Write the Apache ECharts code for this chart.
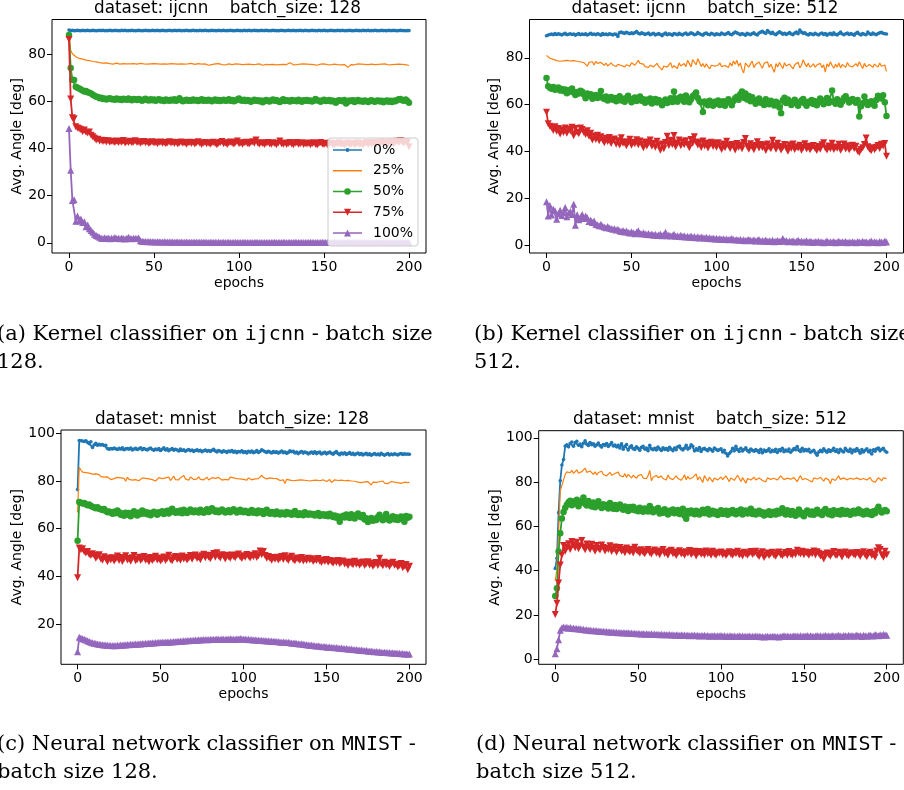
<!DOCTYPE html>
<html><head><meta charset="utf-8">
<script src="https://cdn.jsdelivr.net/npm/echarts@6/dist/echarts.min.js"></script>
<style>html,body{margin:0;padding:0;background:#fff}#c{width:904px;height:790px}</style>
</head><body><div id="c"></div>
<script>
// ---------- labels ----------
const seriesNames = ['0%', '25%', '50%', '75%', '100%'];
const panelTitles = ['dataset: ijcnn    batch_size: 128', 'dataset: ijcnn    batch_size: 512',
                     'dataset: mnist    batch_size: 128', 'dataset: mnist    batch_size: 512'];
const xLabel = 'epochs';
const yLabel = 'Avg. Angle [deg]';
const xTicks = [0, 50, 100, 150, 200];
const yTicksA = [0, 20, 40, 60, 80];
const yTicksB = [0, 20, 40, 60, 80];
const yTicksC = [20, 40, 60, 80, 100];
const yTicksD = [0, 20, 40, 60, 80, 100];
const captionA = ['{r|(a) Kernel classifier on }{m|ijcnn}{r| - batch size}', '{r|128.}'];
const captionB = ['{r|(b) Kernel classifier on }{m|ijcnn}{r| - batch size}', '{r|512.}'];
const captionC = ['{r|(c) Neural network classifier on }{m|MNIST}{r| -}', '{r|batch size 128.}'];
const captionD = ['{r|(d) Neural network classifier on }{m|MNIST}{r| -}', '{r|batch size 512.}'];

// ---------- data: one value per epoch 0..200 ----------
const ijcnn128_0 = [
90.2,90.0,90.1,89.9,90.0,90.1,90.0,89.9,90.1,90.0,90.0,90.1,89.9,90.0,90.1,90.0,89.9,90.0,90.1,90.0,
90.1,89.9,90.0,90.0,90.1,90.0,89.9,90.1,90.0,90.0,89.9,90.1,90.0,90.1,89.9,90.0,90.0,90.1,90.0,89.9,
90.0,90.1,90.0,89.9,90.0,90.1,90.0,90.0,89.9,90.1,90.0,90.0,90.1,89.9,90.0,90.1,90.0,89.9,90.0,90.1,
90.0,89.9,90.1,90.0,90.0,90.1,89.9,90.0,90.0,90.1,90.0,89.9,90.0,90.1,90.0,90.0,89.9,90.1,90.0,90.0,
90.1,90.0,89.9,90.0,90.1,90.0,90.0,89.9,90.1,90.0,90.0,90.1,89.9,90.0,90.0,90.1,90.0,89.9,90.0,90.1,
90.0,90.0,89.9,90.1,90.0,90.0,90.1,89.9,90.0,90.1,90.0,90.0,89.9,90.1,90.0,90.0,90.1,90.0,89.9,90.0,
90.1,90.0,90.0,89.9,90.0,90.1,90.0,89.9,90.0,90.1,90.0,90.0,90.1,89.9,90.0,90.0,90.1,90.0,89.9,90.1,
90.0,89.9,90.0,90.1,90.0,90.0,89.9,90.1,90.0,90.0,90.1,90.0,89.9,90.0,90.1,90.0,90.0,89.9,90.1,90.0,
90.0,90.1,89.9,90.0,90.0,90.1,90.0,89.9,90.0,90.1,90.0,90.0,89.9,90.1,90.0,90.0,90.1,89.9,90.0,90.0,
90.1,90.0,89.9,90.0,90.1,90.0,90.0,89.9,90.1,90.0,90.0,90.1,90.0,89.9,90.0,90.1,90.0,90.0,89.9,90.0,90.0];
const ijcnn128_25 = [
88.5,81.5,80.2,79.4,78.9,78.6,78.2,78.0,77.9,77.6,77.5,77.4,77.3,77.0,76.9,76.8,76.7,76.5,76.4,76.3,
76.2,76.1,76.3,75.9,76.0,76.1,75.8,76.0,76.2,75.9,75.8,76.1,76.0,75.7,75.9,76.2,75.9,75.8,76.0,76.1,
75.8,75.9,76.1,75.7,75.9,76.0,75.8,76.3,75.9,75.7,76.0,75.8,75.9,76.1,75.8,75.6,75.9,76.0,75.8,75.9,
76.0,75.7,75.9,76.1,75.8,76.6,75.9,75.7,75.8,76.0,75.9,75.8,76.1,75.9,75.7,75.8,76.0,75.9,75.8,75.6,
75.9,75.7,75.3,75.1,75.6,75.8,75.9,75.7,76.0,75.8,75.6,75.9,75.4,75.8,75.9,75.2,75.6,75.8,75.9,75.7,
75.8,75.9,75.6,75.8,75.7,75.5,75.8,75.9,75.6,75.4,75.7,75.8,75.9,75.6,75.3,75.8,75.7,75.9,75.6,75.8,
75.7,75.9,75.5,75.8,75.6,75.9,75.7,75.8,75.6,75.9,76.4,75.7,75.5,75.8,75.6,75.4,75.8,75.7,75.9,75.6,
75.8,75.5,75.7,75.9,75.6,75.8,75.3,75.6,75.8,75.5,75.9,75.7,75.6,75.8,75.5,75.7,75.8,75.9,75.6,75.7,
75.5,75.3,75.6,74.9,74.4,75.0,75.6,75.8,75.5,75.7,75.9,75.6,75.8,75.5,75.7,75.9,75.6,75.4,75.8,75.7,
75.6,75.9,75.7,75.5,75.8,75.6,75.9,75.7,75.4,75.8,75.6,75.9,75.7,75.5,75.8,76.1,75.7,75.5,75.6,75.8,75.2];
const ijcnn128_50 = [
88.1,74.1,69.2,69.0,66.2,65.8,65.4,65.0,64.6,64.2,64.4,63.9,63.6,63.3,62.8,62.4,62.0,61.8,61.3,61.5,
61.0,61.2,60.8,61.1,61.3,60.9,61.0,60.7,61.2,60.8,61.0,60.6,61.1,60.9,60.7,61.2,60.8,60.5,61.0,60.9,
60.6,61.0,60.7,60.3,60.8,61.1,60.6,60.4,60.9,60.5,60.8,60.2,60.7,60.9,60.4,60.6,60.1,60.8,60.5,60.3,
60.7,60.4,60.9,60.2,60.6,61.3,60.5,60.0,60.4,60.7,60.3,60.5,60.2,60.8,60.4,60.6,60.1,60.5,60.9,60.3,
60.6,60.2,60.7,60.4,60.0,60.5,60.8,60.3,60.6,60.1,60.5,60.7,60.2,60.4,60.9,60.3,60.6,60.0,60.4,60.8,
61.2,60.5,60.3,60.7,60.1,60.6,60.4,59.8,60.3,60.7,60.2,60.5,60.0,60.4,59.6,60.3,60.6,60.1,59.9,60.5,
60.8,60.2,60.6,60.0,59.7,60.4,60.9,60.1,60.5,60.3,59.9,60.6,60.2,60.4,60.0,60.7,60.3,59.8,60.5,60.2,
60.6,60.1,60.4,59.9,60.3,61.0,60.5,60.2,59.8,60.4,60.7,60.1,60.3,60.6,60.0,60.4,59.9,59.4,60.2,60.5,
60.3,60.0,60.6,59.1,59.8,60.4,60.1,60.5,59.7,60.2,60.6,60.0,60.3,59.8,60.4,60.1,59.7,60.3,60.5,60.0,
59.8,60.2,60.4,59.9,60.3,59.6,60.1,60.4,59.8,60.2,59.7,60.3,60.0,60.6,60.9,61.0,60.5,60.2,60.8,60.1,59.4];
const ijcnn128_75 = [
86.2,61.0,53.0,52.6,49.2,48.7,48.4,48.0,47.1,47.8,46.9,46.6,47.0,45.6,45.0,44.3,43.6,43.9,43.2,43.5,
43.0,43.4,42.8,43.3,42.7,43.1,42.9,42.5,43.2,42.6,43.0,42.7,43.4,42.3,42.9,42.6,43.1,42.4,42.8,43.3,
42.5,42.9,42.2,42.7,43.0,42.4,42.8,42.1,42.6,42.9,42.3,42.7,42.0,42.5,42.8,42.2,42.6,42.0,42.4,42.9,
42.3,42.7,42.1,42.5,41.9,42.4,42.8,42.2,42.6,41.8,42.3,42.7,42.1,42.5,41.9,42.4,42.9,42.2,41.7,42.3,
42.6,42.0,42.4,41.8,42.3,42.7,42.1,41.6,42.2,42.6,43.0,42.0,42.4,41.7,42.3,42.8,42.2,41.9,42.5,43.2,
42.0,42.4,41.8,42.3,42.7,42.1,41.9,42.5,42.9,42.2,43.6,42.3,41.8,42.4,42.1,41.7,42.3,42.6,42.0,41.8,
42.4,42.1,41.6,42.2,43.2,42.0,41.8,42.3,41.7,42.1,42.5,41.9,41.6,42.2,42.6,41.8,42.0,42.4,41.7,42.1,
41.9,42.3,41.6,42.0,42.4,41.8,41.5,42.1,42.5,41.9,41.7,42.2,41.6,42.0,42.3,41.8,41.5,42.1,41.9,42.4,
41.7,42.0,41.4,41.9,42.3,41.6,41.8,42.2,41.5,41.9,42.4,41.7,42.0,41.6,42.1,42.5,41.8,42.2,41.9,42.6,
42.2,41.8,42.5,42.1,42.8,42.3,41.9,42.6,42.2,42.9,42.4,42.0,42.7,43.1,42.5,43.4,42.8,42.3,43.0,42.6,40.8];
const ijcnn128_100 = [
48.5,30.8,18.0,18.3,9.2,11.4,9.3,10.1,8.6,9.0,6.8,7.6,6.0,5.2,4.5,3.6,3.1,2.8,2.4,2.0,
1.9,2.2,1.8,2.1,1.7,2.0,1.9,2.3,1.8,2.0,1.7,2.1,1.9,1.6,2.0,2.4,1.8,1.7,2.0,1.9,
1.8,2.1,0.9,0.7,0.6,0.6,0.5,0.6,0.5,0.5,0.5,0.4,0.5,0.5,0.4,0.4,0.5,0.4,0.4,0.4,
0.4,0.4,0.3,0.4,0.4,0.3,0.4,0.3,0.3,0.4,0.3,0.3,0.3,0.3,0.3,0.3,0.3,0.3,0.3,0.3,
0.3,0.3,0.2,0.3,0.3,0.2,0.3,0.2,0.3,0.2,0.2,0.3,0.2,0.2,0.3,0.2,0.2,0.2,0.3,0.2,
0.2,0.2,0.2,0.3,0.2,0.2,0.2,0.2,0.2,0.2,0.3,0.2,0.2,0.2,0.2,0.2,0.2,0.2,0.2,0.2,
0.2,0.3,0.2,0.2,0.2,0.2,0.3,0.2,0.2,0.2,0.2,0.2,0.2,0.3,0.2,0.2,0.2,0.2,0.2,0.2,
0.2,0.2,0.3,0.2,0.2,0.2,0.2,0.2,0.2,0.3,0.2,0.2,0.2,0.2,0.2,0.2,0.3,0.2,0.2,0.2,
0.2,0.2,0.2,0.2,0.3,0.2,0.2,0.2,0.2,0.2,0.2,0.2,0.3,0.2,0.2,0.2,0.2,0.2,0.2,0.2,
0.2,0.3,0.2,0.2,0.2,0.2,0.2,0.2,0.3,0.2,0.2,0.2,0.2,0.2,0.2,0.3,0.2,0.2,0.2,0.2,0.2];

const ijcnn512_0 = [
89.4,89.7,89.9,90.1,89.8,90.3,89.9,90.2,90.0,89.7,90.1,90.4,89.8,90.0,90.2,89.9,90.1,89.6,90.0,90.3,
89.8,90.1,89.9,90.2,89.7,90.0,90.4,89.9,90.1,89.8,90.2,90.0,89.6,90.3,89.9,90.1,89.8,90.2,90.0,89.7,
90.1,90.0,89.1,90.7,90.9,90.6,90.4,90.8,90.5,90.2,90.6,90.3,90.7,91.2,90.4,90.1,90.6,90.3,89.9,90.2,
90.5,89.8,90.1,90.4,89.7,90.0,90.3,89.9,89.4,90.1,90.5,89.8,90.2,90.0,89.6,90.3,90.1,89.8,90.4,90.0,
89.7,90.2,90.5,89.9,90.1,90.6,90.3,89.8,90.0,90.7,90.2,89.9,89.6,90.3,90.5,90.0,89.8,90.4,90.1,89.7,
90.2,90.0,89.8,90.5,90.1,89.9,90.3,90.7,90.0,89.8,90.4,91.0,90.6,90.2,89.8,90.3,90.0,89.6,90.4,90.1,
89.8,90.3,90.6,90.0,89.7,90.5,90.9,91.3,90.7,90.4,91.6,90.9,90.3,90.8,90.1,89.8,90.5,91.1,90.6,90.0,
90.4,89.9,90.3,90.7,90.1,89.8,90.5,91.0,90.2,91.8,90.9,90.4,90.6,90.0,89.7,90.3,90.1,89.8,90.4,90.0,
89.7,90.2,90.5,89.9,90.3,89.6,90.1,90.4,89.8,90.6,90.0,89.7,90.3,90.9,90.1,89.8,90.2,90.5,89.9,90.3,
90.0,89.6,90.4,90.8,90.1,89.7,90.3,90.0,89.8,91.0,90.2,89.9,90.5,90.1,89.8,90.3,90.6,90.8,90.4,90.2,90.1];
const ijcnn512_25 = [
81.0,80.3,79.8,80.0,79.3,79.6,78.8,79.2,78.5,79.0,78.7,78.2,78.9,78.4,78.6,78.1,78.8,78.3,78.5,78.9,
78.2,78.6,77.9,78.4,76.4,78.0,77.7,78.3,76.9,78.5,77.6,77.1,78.0,77.4,76.8,77.7,76.5,77.3,77.8,76.9,
77.5,76.3,77.2,77.8,76.7,77.4,76.1,77.0,77.6,76.4,77.9,77.2,76.8,77.5,78.9,77.6,76.9,77.3,76.2,76.7,
75.9,76.8,77.4,76.1,76.9,77.6,76.3,77.1,74.8,76.5,77.2,76.0,76.8,77.9,75.7,76.6,77.3,75.4,77.8,76.5,
76.9,77.5,76.2,78.9,77.6,76.1,79.2,78.4,77.0,79.6,78.1,76.3,77.5,75.9,77.4,76.2,75.3,76.8,77.6,76.4,
75.6,76.9,77.8,76.2,75.4,76.7,77.3,75.8,77.9,76.5,78.6,77.2,78.9,76.4,77.8,75.1,73.5,77.7,78.5,76.0,
77.4,78.6,75.8,77.1,76.3,78.2,76.8,75.5,77.6,76.9,78.3,75.9,77.2,76.4,73.8,77.5,76.1,78.0,76.7,75.4,
77.9,76.5,75.8,77.3,76.6,75.2,77.0,76.4,78.1,75.7,76.8,79.2,77.4,76.2,77.7,75.9,76.6,77.4,76.0,76.9,
76.3,77.6,75.8,77.0,73.9,77.4,76.2,78.3,76.7,75.5,77.2,76.0,77.8,75.6,77.1,76.4,75.9,78.0,76.6,77.3,
76.1,75.7,77.5,76.3,78.3,76.8,75.4,77.6,76.2,75.8,77.1,76.5,75.9,77.3,76.7,76.0,77.8,76.4,75.6,76.9,74.2];
const ijcnn512_50 = [
71.4,67.9,67.2,66.8,67.5,66.4,66.9,67.3,66.0,66.7,65.8,66.5,64.9,66.2,65.6,66.9,65.2,64.1,65.4,64.8,
65.9,65.5,64.3,62.7,64.8,63.9,64.5,62.5,63.4,64.1,62.9,63.6,65.8,63.0,62.4,63.5,61.8,62.7,63.3,62.1,
62.8,61.5,62.9,63.6,61.8,62.5,61.2,62.9,63.8,62.2,61.0,62.4,63.1,61.6,62.8,63.5,61.7,62.3,60.8,62.1,
61.4,62.6,60.5,61.8,62.4,60.9,62.0,61.3,59.8,61.5,62.2,60.7,61.9,62.7,61.1,65.6,62.5,61.2,62.8,63.4,
62.1,61.3,63.9,62.6,61.0,62.3,63.6,64.2,65.2,62.8,61.5,60.9,56.9,61.4,60.6,59.8,61.7,60.3,59.5,61.2,
60.4,61.8,59.9,60.7,61.5,59.6,60.9,62.3,61.0,59.8,61.6,62.7,63.4,62.1,64.4,65.6,63.0,64.8,62.2,63.7,
61.5,63.2,62.0,60.4,61.9,62.6,60.8,61.4,59.9,62.3,61.0,60.2,61.7,60.5,59.7,61.3,60.6,58.8,56.3,61.9,
63.0,60.7,62.2,61.4,59.9,60.6,62.1,61.0,59.5,60.9,61.8,62.4,60.5,59.6,61.2,60.8,62.0,60.3,61.5,59.8,
61.0,62.6,61.4,60.2,61.9,62.8,60.7,61.5,66.0,61.2,60.4,62.3,61.7,60.0,61.4,62.9,63.6,62.2,60.9,61.8,
62.4,61.6,60.8,62.0,55.0,59.3,60.6,63.5,61.2,59.9,60.8,61.5,60.2,59.6,62.0,63.8,63.3,62.6,64.0,61.0,55.2];
const ijcnn512_75 = [
56.8,51.9,50.8,50.2,49.0,50.6,48.7,49.9,47.5,49.3,48.2,50.1,47.8,49.6,48.8,50.4,46.8,49.9,48.3,47.6,
50.1,49.4,48.1,47.3,48.9,46.5,47.8,44.9,46.7,45.2,47.0,44.6,46.3,45.1,43.8,45.7,44.3,46.0,43.5,44.8,
45.4,43.1,44.6,42.8,45.9,43.6,44.2,42.5,43.9,45.3,42.7,44.0,43.4,45.1,42.9,44.5,43.2,41.6,44.1,42.4,
43.8,45.0,42.3,43.6,41.9,44.4,42.8,40.6,43.3,41.2,43.9,46.5,42.6,44.8,43.0,46.9,42.1,43.7,44.9,42.5,
44.2,42.9,44.6,43.1,41.7,45.2,43.6,46.3,44.1,42.8,43.9,41.8,44.5,42.4,43.7,41.5,42.9,44.0,42.2,43.5,
41.9,43.8,42.5,40.9,43.2,41.6,44.4,42.7,41.3,43.0,42.4,40.7,43.5,41.9,42.8,41.2,43.9,45.6,42.3,41.0,
43.4,42.1,40.8,42.6,44.2,41.5,43.0,41.8,42.7,40.5,43.3,42.0,41.2,44.8,42.5,41.0,43.6,42.2,40.7,41.9,
43.0,41.6,40.2,42.8,41.4,43.2,40.9,42.1,41.5,42.7,40.6,41.8,43.4,41.1,42.3,40.8,41.9,42.6,41.3,40.5,
42.2,41.0,42.9,43.8,41.5,40.7,42.4,41.2,43.6,40.9,42.0,41.4,43.1,40.6,41.8,43.3,41.1,42.5,40.8,41.6,
42.7,41.3,42.3,40.2,39.6,40.9,41.7,43.0,45.8,42.1,41.0,40.4,41.6,40.8,41.9,42.6,41.3,43.1,42.4,43.5,38.0];
const ijcnn512_100 = [
18.6,12.6,17.0,13.0,15.4,14.8,11.2,13.5,15.0,12.8,14.0,16.2,12.3,13.8,14.5,13.2,17.6,8.6,13.1,11.0,
12.0,13.2,11.5,12.6,11.8,10.2,10.9,9.8,10.4,9.1,8.8,8.4,9.0,8.2,7.9,7.6,8.1,7.4,7.2,6.9,
7.1,6.6,6.9,6.3,6.0,6.4,5.8,6.2,5.6,5.3,5.9,5.4,5.0,5.7,6.3,5.2,4.9,5.4,5.0,4.7,
5.1,4.6,4.9,4.4,4.8,4.3,4.5,4.9,4.2,4.6,5.6,4.1,4.5,4.0,4.3,4.8,3.9,4.2,3.8,4.4,
3.7,4.1,3.6,3.9,3.5,4.0,3.4,3.8,3.3,3.7,3.2,3.6,3.4,3.1,3.5,3.0,3.3,2.9,3.2,2.8,
3.1,2.7,3.0,2.6,2.9,2.5,2.8,2.4,2.7,3.0,2.5,2.3,2.6,2.2,2.5,2.1,2.4,2.0,2.3,2.6,
2.2,2.0,2.4,1.9,2.2,2.5,1.8,2.1,1.9,2.3,1.7,2.0,1.8,2.2,1.6,1.9,2.1,1.7,2.0,3.0,
1.8,2.1,1.6,1.9,1.7,2.0,1.5,1.8,2.2,1.6,1.9,1.5,1.7,2.0,1.4,1.8,1.6,1.3,1.7,1.5,
1.8,1.4,1.6,1.2,1.5,1.9,1.3,1.6,1.4,1.7,1.2,1.5,1.8,1.3,1.6,1.4,1.7,1.2,1.5,1.3,
1.6,1.4,1.2,1.7,1.5,1.3,1.8,1.4,1.6,1.2,1.5,1.9,1.3,1.6,1.4,1.2,1.7,1.5,1.3,1.9,1.5];

const mnist128_0 = [
76.4,97.0,96.9,96.8,96.6,96.9,96.2,95.7,96.5,94.1,95.2,95.8,95.0,95.4,95.1,95.3,94.9,95.0,93.6,93.3,
93.6,93.4,93.8,93.5,93.2,93.7,93.4,93.9,93.1,93.5,93.6,93.3,93.8,93.0,93.4,93.7,93.2,93.5,93.9,93.1,
93.6,93.3,93.0,93.5,93.8,93.2,92.9,93.4,93.1,93.6,92.8,93.3,93.9,93.0,93.5,92.7,93.2,93.6,92.9,93.3,
93.0,92.6,93.4,92.8,93.1,92.5,92.9,93.2,92.7,93.0,92.4,92.8,93.1,92.6,92.9,92.3,92.7,93.0,92.5,92.8,
92.4,92.9,93.3,92.6,92.2,92.8,92.5,92.1,92.7,92.4,92.0,92.6,92.3,92.8,92.1,92.5,91.9,92.4,92.2,92.7,
92.0,92.3,91.8,92.5,92.1,92.6,91.9,92.2,92.8,92.0,92.4,93.1,92.7,92.3,92.0,92.5,92.1,91.8,92.4,92.0,
92.3,91.7,92.1,92.6,91.9,92.2,91.6,92.0,92.7,92.3,92.5,91.8,92.1,91.5,92.0,92.4,91.7,92.2,91.9,91.4,
91.8,92.1,91.6,92.3,91.5,91.9,92.2,91.3,91.7,92.0,91.4,91.8,92.1,91.6,91.2,91.9,92.4,91.5,91.0,91.7,
91.3,91.8,91.1,91.5,91.9,91.2,91.6,91.0,91.4,91.7,91.1,91.5,90.9,91.3,91.6,91.0,91.4,90.8,91.2,91.5,
91.0,91.3,90.9,91.6,91.1,90.8,91.2,91.5,90.9,91.3,91.0,91.4,91.2,90.9,91.3,91.5,91.1,91.4,91.2,91.3,91.2];
const mnist128_25 = [
66.8,85.8,84.6,83.7,83.2,83.5,82.8,83.3,82.6,82.9,82.2,83.0,82.4,82.7,81.8,82.5,81.6,80.9,81.7,81.2,
80.6,81.4,81.0,80.2,81.5,80.8,81.3,80.5,81.1,79.9,81.6,80.7,81.2,80.4,81.0,80.6,81.4,80.1,80.8,81.3,
80.5,81.1,80.3,80.9,81.5,80.6,81.2,80.0,80.8,81.4,80.7,81.0,80.4,81.3,80.9,81.6,80.2,80.8,82.0,80.6,
81.1,80.5,81.4,80.8,82.3,80.9,81.5,80.3,81.7,81.0,80.6,81.3,80.9,81.8,80.7,81.2,80.5,81.0,81.6,80.4,
80.8,81.4,80.6,81.1,80.3,81.5,80.9,80.4,81.2,80.7,81.0,80.5,81.6,80.8,81.3,80.6,81.0,80.2,80.9,81.4,
80.7,81.1,80.4,81.3,80.8,80.5,81.2,80.9,80.3,81.0,81.7,82.4,81.5,81.8,80.9,80.6,81.3,80.7,81.1,80.4,
81.0,80.6,80.2,80.9,80.5,78.9,80.7,81.2,80.4,80.8,80.1,80.6,80.3,81.0,80.5,79.9,80.4,80.8,80.2,80.6,
80.0,80.7,80.3,79.6,80.4,80.8,80.1,79.7,80.5,80.2,79.8,80.3,80.6,79.4,80.1,80.5,79.7,80.2,79.9,80.4,
79.8,80.1,79.5,80.3,79.7,80.0,79.4,79.9,80.2,79.5,79.8,79.3,79.9,79.6,78.9,79.7,79.2,78.3,79.5,79.0,
79.4,78.8,79.7,79.2,80.0,79.1,79.6,78.9,79.4,79.8,79.1,79.5,78.9,79.3,79.6,79.0,79.2,79.5,79.1,79.3,79.4];
const mnist128_50 = [
54.9,71.2,70.9,70.6,70.8,70.3,69.8,70.1,69.5,69.2,68.9,68.6,69.0,68.4,68.1,67.8,68.3,67.4,66.9,67.2,
66.8,66.3,67.1,66.5,67.6,66.9,65.8,66.4,65.4,66.7,65.9,66.6,65.2,66.1,67.3,66.0,65.5,66.8,66.2,67.6,
66.4,67.0,66.1,66.7,65.6,66.3,67.1,66.5,65.8,66.9,66.6,67.3,66.2,66.8,67.5,66.4,67.7,68.4,67.1,66.7,
67.3,66.8,67.6,66.5,67.9,67.2,66.6,67.4,68.0,67.1,66.9,67.6,67.3,66.8,67.9,67.2,66.7,67.5,68.1,67.0,
67.4,68.6,67.8,67.1,67.6,66.9,67.3,68.0,67.5,66.8,67.2,67.7,66.9,67.4,68.1,67.6,66.8,67.3,67.9,67.1,
66.9,67.5,67.0,66.6,67.3,67.8,66.7,67.2,66.5,67.6,66.9,67.4,66.2,67.1,67.9,66.6,66.3,67.0,66.7,66.1,
67.2,66.5,66.0,66.8,66.4,65.9,67.0,66.3,66.7,65.8,66.2,67.4,66.0,65.7,66.5,66.1,65.6,66.9,66.3,65.8,
66.4,65.9,66.2,65.5,66.0,66.6,65.3,65.8,66.1,65.4,65.9,65.2,66.3,65.6,64.9,65.5,64.6,65.1,62.9,64.8,
65.4,64.7,65.9,65.2,64.5,66.1,65.0,64.3,65.6,66.4,65.1,64.8,65.7,63.8,64.4,62.8,63.7,64.5,63.3,64.1,
63.6,64.9,65.8,64.3,63.5,64.7,66.2,64.0,63.4,64.6,65.2,63.9,64.8,63.6,64.2,65.1,63.8,62.9,65.3,64.6,65.0];
const mnist128_75 = [
39.4,51.9,51.2,51.6,50.3,49.8,50.4,49.2,48.7,49.5,48.9,47.6,48.4,49.1,47.3,46.8,48.2,47.5,46.1,47.7,
46.9,47.8,46.4,47.3,48.5,46.7,47.9,46.2,47.4,48.6,46.9,47.5,46.3,47.8,48.7,46.5,47.1,48.0,46.6,47.4,
48.3,46.8,47.6,46.1,47.9,46.6,47.3,48.4,46.9,47.7,46.4,47.2,48.1,46.7,47.5,48.8,47.0,46.5,47.8,48.3,
47.1,47.9,46.8,48.5,47.3,48.0,46.9,47.6,48.7,47.2,48.4,49.0,47.5,48.2,47.0,48.6,49.3,47.8,48.9,48.1,
47.4,48.7,49.6,48.0,49.9,48.4,47.7,49.1,48.5,47.3,48.8,48.2,47.6,49.0,48.3,47.8,48.9,49.4,48.1,47.5,
48.6,48.0,49.2,48.4,47.7,48.9,48.2,49.5,47.9,48.6,50.6,49.1,50.4,48.7,47.6,48.3,47.5,46.8,47.9,47.2,
48.0,46.9,47.5,48.3,47.1,48.6,47.4,46.7,47.8,48.4,47.0,46.5,47.7,47.2,46.8,47.9,46.4,47.3,46.7,47.6,
46.9,47.4,46.2,47.0,46.6,47.5,46.3,45.8,46.9,46.2,47.1,45.9,46.7,46.1,45.5,46.4,45.8,46.6,45.3,45.9,
46.4,45.2,45.8,44.6,46.0,45.4,44.9,46.3,45.1,45.7,44.7,45.5,46.0,44.5,45.3,46.1,44.8,45.6,44.2,45.0,
45.8,44.6,47.6,45.2,44.4,45.9,44.8,45.5,44.1,45.3,45.9,44.7,45.1,43.9,44.6,45.4,43.6,44.3,45.0,42.8,44.2];
const mnist128_100 = [
8.4,14.4,14.1,13.8,13.6,13.3,13.0,12.7,12.4,12.1,11.9,11.8,11.6,11.5,11.4,11.3,11.2,11.2,11.1,11.0,
11.0,10.9,11.0,10.9,11.1,11.0,11.2,11.1,11.3,11.2,11.4,11.3,11.5,11.4,11.5,11.6,11.5,11.7,11.6,11.8,
11.7,11.9,11.8,12.0,11.9,12.1,12.0,12.2,12.1,12.3,12.2,12.3,12.4,12.3,12.5,12.4,12.6,12.5,12.7,12.6,
12.8,12.7,12.9,12.8,13.0,12.9,13.1,13.0,13.2,13.1,13.2,13.3,13.2,13.4,13.3,13.4,13.5,13.4,13.5,13.4,
13.6,13.5,13.6,13.5,13.7,13.6,13.5,13.7,13.6,13.5,13.7,13.6,13.8,13.6,13.7,13.5,13.8,13.6,13.9,13.7,
13.6,13.7,13.5,13.6,13.4,13.5,13.3,13.4,13.2,13.3,13.1,13.2,13.0,13.1,12.9,13.0,12.8,12.9,12.7,12.8,
12.6,12.7,12.5,12.4,12.5,12.3,12.2,12.3,12.1,12.0,11.9,12.0,11.8,11.7,11.6,11.7,11.5,11.4,11.3,11.2,
11.1,11.2,11.0,10.9,10.8,10.9,10.7,10.6,10.5,10.6,10.4,10.3,10.4,10.2,10.1,10.0,10.1,9.9,9.8,9.9,
9.7,9.6,9.7,9.5,9.4,9.5,9.3,9.2,9.3,9.1,9.0,9.1,8.9,8.8,8.9,8.7,8.6,8.7,8.5,8.4,
8.5,8.3,8.4,8.2,8.1,8.2,8.0,7.9,8.0,7.8,7.9,7.7,7.8,7.6,7.7,7.5,7.6,7.4,7.5,7.3,7.4];

const mnist512_0 = [
41.0,45.6,66.2,80.6,87.7,90.2,96.3,96.8,95.9,97.4,98.1,96.2,97.8,98.4,96.6,97.2,96.0,97.5,98.6,97.1,
96.5,97.8,96.9,97.3,96.2,96.8,97.6,96.4,95.8,97.0,96.5,97.4,96.1,96.9,97.8,96.3,96.7,95.9,96.6,95.4,
97.3,94.8,96.2,96.9,94.5,95.8,96.4,95.1,94.7,95.9,95.3,94.4,95.7,96.1,94.9,95.4,94.2,96.6,95.0,94.6,
95.2,94.5,95.8,94.9,94.3,95.5,94.7,95.1,94.4,95.7,94.8,94.2,95.4,94.6,95.9,96.3,95.0,94.5,95.3,96.6,
94.9,95.4,96.8,96.2,94.1,95.0,94.4,95.6,93.8,94.9,95.3,94.6,94.2,95.1,94.7,93.9,95.4,94.8,94.3,94.6,
95.0,93.6,94.4,93.0,91.8,92.9,93.7,95.2,94.1,96.1,94.6,93.8,95.3,94.0,94.7,95.5,94.2,93.6,94.9,94.3,
93.9,94.7,94.1,93.4,94.8,93.2,94.5,93.8,94.2,95.0,93.6,94.4,93.9,94.8,93.4,94.6,94.1,95.3,93.7,94.5,
94.0,94.9,93.5,94.3,95.1,94.6,96.0,94.4,93.8,95.2,94.0,94.7,94.2,94.8,93.5,93.9,94.4,93.1,92.1,93.6,
94.3,93.7,95.0,94.1,93.5,94.6,93.8,94.4,95.3,93.9,94.6,93.3,94.8,94.0,93.6,95.2,94.3,93.8,94.9,93.2,
94.5,93.9,95.1,94.2,93.0,94.7,93.6,94.4,95.0,93.7,94.3,92.7,94.6,93.9,95.0,95.4,94.1,94.8,95.2,94.0,93.5];
const mnist512_25 = [
35.5,40.5,57.0,76.0,78.5,81.0,83.5,84.6,85.0,84.2,85.3,83.9,84.8,85.5,84.0,83.3,84.7,85.1,86.3,84.4,
83.8,85.0,84.1,83.5,84.6,83.2,84.3,83.7,84.9,83.4,84.0,82.8,83.6,84.4,83.1,82.6,83.9,83.3,84.5,82.9,
83.2,82.4,83.8,82.1,83.5,82.7,81.9,83.1,82.5,81.7,82.9,82.3,83.4,81.8,82.6,81.5,82.9,85.3,80.6,82.2,
81.4,83.0,82.0,81.3,82.7,81.6,82.4,80.9,83.2,81.8,82.5,81.1,80.2,82.8,81.7,82.3,80.8,81.9,83.3,81.0,
82.6,81.4,80.7,82.1,81.5,83.7,80.9,82.4,81.2,79.8,82.9,81.6,80.5,82.2,81.3,80.1,81.8,82.7,81.0,80.4,
82.3,81.1,80.6,82.8,81.5,80.2,81.9,82.5,80.8,81.4,83.1,81.7,80.3,82.0,81.2,79.5,81.6,82.4,80.9,81.5,
82.2,81.0,80.4,81.8,82.6,80.7,81.3,80.1,81.9,82.5,81.2,80.6,81.7,82.3,80.9,81.5,82.8,83.4,81.1,80.5,
81.8,82.4,81.3,80.7,82.0,81.4,80.2,81.7,82.9,81.1,80.5,81.6,82.3,80.8,81.2,80.0,81.9,82.6,81.4,80.6,
82.1,81.3,80.4,81.8,82.5,81.0,79.2,81.5,82.2,80.7,81.6,82.8,81.2,80.5,81.9,82.4,81.0,80.3,81.7,82.0,
81.3,80.6,81.9,82.7,81.1,80.4,81.6,82.3,80.9,81.5,82.1,80.7,81.3,79.8,81.0,82.0,81.4,80.6,81.9,81.7,81.5];
const mnist512_50 = [
28.6,32.0,48.6,56.9,63.6,66.5,68.4,69.8,70.9,71.6,69.5,71.2,70.3,72.0,69.1,70.6,71.4,73.0,70.2,69.4,
71.5,70.1,69.0,70.8,68.6,70.4,71.3,69.2,68.3,70.0,68.9,69.7,68.1,70.5,69.3,68.0,69.6,67.8,68.7,69.9,
68.2,67.5,69.0,68.4,66.9,68.7,67.6,68.9,67.3,68.0,66.8,68.4,67.2,66.6,68.1,67.4,66.7,69.2,67.9,66.4,
67.5,66.9,68.3,65.8,67.1,66.2,67.7,66.5,65.4,67.0,66.3,67.6,65.9,66.8,67.4,65.6,66.6,67.9,64.8,63.4,
66.9,65.8,67.2,66.4,65.5,67.0,66.1,65.3,66.7,67.5,65.9,66.5,67.8,65.4,66.2,67.1,65.7,66.6,65.1,66.3,
67.3,65.6,66.4,67.0,65.2,66.8,65.9,67.4,66.3,65.5,66.9,66.0,67.6,65.3,66.5,67.2,65.8,66.4,67.9,65.6,
66.7,65.4,66.1,67.0,65.7,66.4,64.9,66.2,65.5,66.8,65.1,65.9,66.6,65.3,67.1,65.8,66.5,68.2,66.0,65.4,
67.3,66.1,65.2,66.9,65.7,64.8,66.4,67.6,65.5,66.2,64.6,65.9,67.2,66.0,65.4,66.7,65.2,66.3,67.5,65.8,
66.4,65.1,66.9,67.8,66.2,65.5,66.8,65.0,67.3,66.5,65.7,66.9,65.4,67.4,66.1,65.6,67.0,66.3,65.2,66.6,
67.1,65.8,66.4,67.6,65.9,66.7,65.3,66.2,67.0,65.6,66.4,65.1,66.8,65.9,67.5,68.9,67.2,66.3,66.9,67.4,66.8];
const mnist512_75 = [
20.2,25.3,34.4,42.6,47.1,51.4,48.8,50.6,52.1,49.5,53.2,51.7,50.3,52.8,49.9,51.2,53.6,50.7,49.4,52.0,
50.8,49.6,51.9,50.2,48.7,51.4,50.0,49.3,51.6,50.5,48.9,50.1,49.5,51.2,48.6,49.8,50.7,48.3,49.9,50.4,
48.7,49.5,48.1,50.2,49.0,48.4,49.7,48.0,50.6,49.2,48.5,47.8,49.4,48.2,47.6,48.9,49.6,48.1,47.5,48.8,
49.3,47.9,48.6,47.2,48.9,49.5,47.7,48.3,47.0,48.7,49.2,47.6,48.4,46.8,48.1,49.0,47.5,48.2,46.9,48.5,
47.8,49.1,47.3,48.0,48.8,46.6,47.9,48.6,47.4,48.2,47.1,48.9,47.6,48.3,47.0,48.7,47.5,46.9,48.1,47.8,
48.4,47.2,48.0,46.8,47.7,48.5,47.4,46.9,48.2,47.6,48.8,47.1,47.9,46.6,48.3,47.5,46.9,48.0,48.6,47.3,
47.9,48.7,47.2,46.4,47.8,48.5,45.9,47.1,48.0,46.8,47.6,48.3,47.0,46.5,47.9,48.4,47.2,46.7,47.5,48.2,
47.0,48.6,47.4,46.9,48.1,47.3,49.2,48.0,47.5,48.8,47.2,48.4,47.7,46.9,48.2,47.6,48.9,47.1,48.5,47.8,
46.6,47.4,45.2,46.9,48.0,47.3,46.5,47.8,48.6,47.1,46.8,48.3,47.5,46.2,47.9,48.4,47.0,46.6,47.7,48.1,
47.4,46.9,48.2,47.6,46.4,47.9,48.5,47.1,46.3,47.7,48.3,46.8,47.5,46.1,48.9,50.3,49.6,47.2,46.0,48.8,47.2];
const mnist512_100 = [
2.5,4.7,8.8,13.1,14.2,14.5,14.2,14.4,14.0,14.3,13.9,14.1,13.8,13.9,13.6,13.7,13.4,13.5,13.2,13.3,
13.1,13.2,12.9,13.0,12.8,12.9,12.6,12.7,12.5,12.6,12.4,12.5,12.3,12.4,12.2,12.3,12.1,12.2,12.0,12.1,
12.0,11.9,12.0,11.8,11.9,11.7,11.8,11.6,11.7,11.5,11.6,11.5,11.4,11.6,11.3,11.5,11.4,11.3,11.5,11.2,
11.4,11.2,11.3,11.1,11.3,11.0,11.2,11.1,11.0,11.2,10.9,11.1,10.8,11.0,10.9,10.7,11.0,10.8,10.9,10.7,
10.9,10.6,10.8,10.7,10.9,10.6,10.8,10.5,10.7,10.6,10.8,10.5,10.7,10.4,10.6,10.5,10.7,10.4,10.6,10.5,
10.7,10.4,10.6,10.3,10.5,10.4,10.6,10.3,10.5,10.2,10.4,10.6,10.3,10.5,10.2,10.4,10.3,10.5,10.2,10.4,
10.3,10.5,10.2,10.4,10.1,10.3,10.0,10.2,10.4,10.1,10.3,10.2,10.4,10.1,10.3,10.0,10.2,10.4,10.6,10.3,
10.5,10.2,10.4,10.3,10.6,10.4,10.5,10.2,10.6,10.3,10.5,10.4,10.7,10.3,10.6,10.4,10.2,10.5,10.7,10.4,
10.6,10.3,10.5,10.8,10.4,10.6,10.3,10.7,10.5,10.4,10.6,10.8,10.5,10.3,10.7,10.6,10.4,10.8,10.5,10.7,
10.4,10.6,10.9,10.5,10.7,10.3,10.8,10.6,10.4,10.7,10.9,10.5,10.6,11.2,10.8,10.6,11.0,10.7,11.3,10.9,10.8];

// ---------- checks ----------
const allArrays = {ijcnn128_0, ijcnn128_25, ijcnn128_50, ijcnn128_75, ijcnn128_100,
  ijcnn512_0, ijcnn512_25, ijcnn512_50, ijcnn512_75, ijcnn512_100,
  mnist128_0, mnist128_25, mnist128_50, mnist128_75, mnist128_100,
  mnist512_0, mnist512_25, mnist512_50, mnist512_75, mnist512_100};
const bad = Object.entries(allArrays).filter(([k, v]) => v.length !== 201).map(([k, v]) => k + ':' + v.length);
if (bad.length) { document.body.insertAdjacentHTML('afterbegin', '<pre>' + bad.join(' ') + '</pre>'); throw new Error('bad lengths ' + bad.join(' ')); }

// ---------- layout / style ----------
const panelData = [
  [ijcnn128_0, ijcnn128_25, ijcnn128_50, ijcnn128_75, ijcnn128_100],
  [ijcnn512_0, ijcnn512_25, ijcnn512_50, ijcnn512_75, ijcnn512_100],
  [mnist128_0, mnist128_25, mnist128_50, mnist128_75, mnist128_100],
  [mnist512_0, mnist512_25, mnist512_50, mnist512_75, mnist512_100]];
const yTicks = [yTicksA, yTicksB, yTicksC, yTicksD];
const grids = [
  {left: 52, top: 19.5, width: 374, height: 233.5},
  {left: 529.5, top: 19.5, width: 374, height: 233.5},
  {left: 61, top: 430, width: 365, height: 234.3},
  {left: 538.7, top: 430.7, width: 364.6, height: 233.6}];
const yRange = [[-4.3, 94.7], [-3.2, 96.3], [3.1, 101.4], [-2.3, 103.2]];
const yNameGap = [26, 26, 36, 36];
const titlePos = [[227.5, 9], [705, 9], [232, 420], [710, 420]];
const colors = ['#1f77b4', '#ff7f0e', '#2ca02c', '#d62728', '#9467bd'];
const marks = [
  {symbol: 'circle', size: 3.6, width: 1.8, rotate: 0},
  {symbol: 'none', size: 0, width: 1.2, rotate: 0},
  {symbol: 'circle', size: 6.5, width: 1.8, rotate: 0},
  {symbol: 'triangle', size: 7, width: 1.8, rotate: 180},
  {symbol: 'triangle', size: 7, width: 1.8, rotate: 0}];
const legendIcons = [
  'path://M0,1.25h29v1.5h-29z M12.5,2a2,2 0 1,1 4,0a2,2 0 1,1 -4,0z',
  'path://M0,0h29v1.5h-29z',
  'path://M0,2.55h29v1.5h-29z M11.2,3.3a3.3,3.3 0 1,1 6.6,0a3.3,3.3 0 1,1 -6.6,0z',
  'path://M0,2.75h29v1.5h-29z M11,0h7l-3.5,7z',
  'path://M0,2.75h29v1.5h-29z M14.5,0l3.5,7h-7z'];

const FONT = 'DejaVu Sans';
const series = [];
panelData.forEach((arrs, p) => {
  arrs.forEach((arr, s) => {
    series.push({
      type: 'line', name: seriesNames[s], xAxisIndex: p, yAxisIndex: p,
      data: arr.map((v, i) => [i, v]),
      symbol: marks[s].symbol, symbolSize: marks[s].size, symbolRotate: marks[s].rotate,
      showSymbol: marks[s].symbol !== 'none', showAllSymbol: true,
      lineStyle: {color: colors[s], width: marks[s].width},
      itemStyle: {color: colors[s]},
      color: colors[s],
      animation: false, silent: true, emphasis: {disabled: true}, z: 2 + s * 0.01
    });
  });
});

const xAxes = grids.map((g, i) => ({
  gridIndex: i, type: 'value', min: -10, max: 210, position: 'bottom',
  splitLine: {show: false}, axisLine: {show: false, onZero: false},
  axisTick: {show: true, customValues: xTicks, length: 5, lineStyle: {color: '#000', width: 1}},
  axisLabel: {customValues: xTicks, color: '#000', fontSize: 14, fontFamily: FONT, margin: 7},
  name: xLabel, nameLocation: 'middle', nameGap: 23,
  nameTextStyle: {color: '#000', fontSize: 14, fontFamily: FONT}
}));
const yAxes = grids.map((g, i) => ({
  gridIndex: i, type: 'value', min: yRange[i][0], max: yRange[i][1], position: 'left',
  splitLine: {show: false}, axisLine: {show: false, onZero: false},
  axisTick: {show: true, customValues: yTicks[i], length: 5, lineStyle: {color: '#000', width: 1}},
  axisLabel: {customValues: yTicks[i], color: '#000', fontSize: 14, fontFamily: FONT, margin: 6},
  name: yLabel, nameLocation: 'middle', nameGap: yNameGap[i], nameRotate: 90,
  nameTextStyle: {color: '#000', fontSize: 14, fontFamily: FONT}
}));

const graphic = [];
panelTitles.forEach((t, i) => graphic.push({
  type: 'text', x: titlePos[i][0], y: titlePos[i][1], silent: true,
  style: {text: t, fontSize: 16.8, fontFamily: FONT, fill: '#000', textAlign: 'center', textVerticalAlign: 'middle', align: 'center', verticalAlign: 'middle'}
}));
const captionRich = {
  r: {fontFamily: 'DejaVu Serif', fontSize: 21, fill: '#000', color: '#000'},
  m: {fontFamily: 'DejaVu Sans Mono', fontSize: 20, fill: '#000', color: '#000'}
};
const captionPos = [[-3, 335, 363], [474, 335, 363], [-3, 745, 773], [476, 745, 773]];
[captionA, captionB, captionC, captionD].forEach((cap, i) => {
  cap.forEach((line, j) => graphic.push({
    type: 'text', x: captionPos[i][0], y: captionPos[i][1 + j], silent: true,
    style: {text: line, rich: captionRich, fill: '#000', textAlign: 'left', textVerticalAlign: 'middle', align: 'left', verticalAlign: 'middle'}
  }));
});

const chart = echarts.init(document.getElementById('c'), null, {renderer: 'canvas'});
chart.setOption({
  animation: false,
  backgroundColor: '#ffffff',
  textStyle: {fontFamily: FONT},
  grid: grids.map(g => Object.assign({show: true, borderColor: '#000', borderWidth: 1, backgroundColor: 'transparent', containLabel: false}, g)),
  xAxis: xAxes,
  yAxis: yAxes,
  legend: {
    data: seriesNames.map((n, i) => ({name: n, icon: legendIcons[i]})),
    orient: 'vertical', left: 328, top: 138,
    itemWidth: 29, itemHeight: 14, itemGap: 6.75, padding: [5, 5, 6, 5],
    backgroundColor: 'rgba(255,255,255,0.8)', borderColor: '#cccccc', borderWidth: 1, borderRadius: 3,
    selectedMode: false, symbolKeepAspect: true,
    textStyle: {color: '#000', fontSize: 14, fontFamily: FONT, padding: [0, 0, 0, 6]}
  },
  series: series,
  graphic: graphic
});
</script></body></html>
